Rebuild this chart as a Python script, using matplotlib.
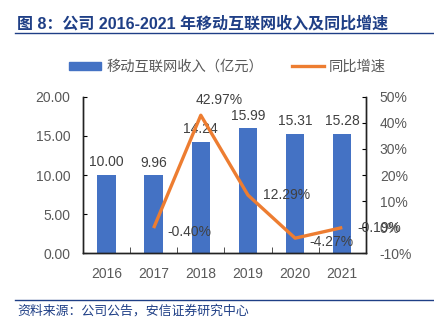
import numpy as np
import matplotlib
matplotlib.use('Agg')
import matplotlib.pyplot as plt
from matplotlib.lines import Line2D
from matplotlib.patches import Patch

plt.rcParams['font.family'] = ['Liberation Sans', 'Noto Sans CJK SC', 'DejaVu Sans']

years = ['2016', '2017', '2018', '2019', '2020', '2021']
revenue = [10.00, 9.96, 14.24, 15.99, 15.31, 15.28]
growth_years = ['2017', '2018', '2019', '2020', '2021']
growth = [-0.40, 42.97, 12.29, -4.27, -0.19]

bar_color = '#4472C4'
line_color = '#ED7D31'
tick_color = '#595959'
label_color = '#404040'
title_color = '#1F3F86'

fig = plt.figure(figsize=(4.34, 3.22), dpi=100)
ax = fig.add_axes([0.191, 0.214, 0.652, 0.485])
ax2 = ax.twinx()

x = np.arange(len(years))
bars = ax.bar(x, revenue, width=0.39, color=bar_color, zorder=2)
for xi, v in zip(x, revenue):
    ax.annotate('%.2f' % v, (xi, v), xytext=(0, 4), textcoords='offset points',
                ha='center', va='bottom', fontsize=10, color=label_color)

ax.set_xlim(-0.5, len(years) - 0.5)
ax.set_ylim(0, 20)
ax.set_yticks(np.arange(0, 21, 5))
ax.set_yticklabels(['%.2f' % t for t in np.arange(0, 21, 5)])
ax.set_xticks(x)
ax.set_xticklabels(years)
ax.set_xticks(np.arange(0.5, len(years) - 1, 1), minor=True)
ax.tick_params(axis='x', which='major', length=0, pad=10, labelsize=10, labelcolor=tick_color)
ax.tick_params(axis='x', which='minor', direction='in', length=4, color='#333333')
ax.tick_params(axis='y', direction='in', length=3, pad=9, labelsize=10, labelcolor=tick_color)

gx = [years.index(y) for y in growth_years]
ax2.plot(gx, growth, color=line_color, linewidth=2.4, solid_capstyle='butt', zorder=3)
ax2.set_ylim(-10, 50)
ax2.set_yticks(np.arange(-10, 51, 10))
ax2.set_yticklabels(['%d%%' % t for t in np.arange(-10, 51, 10)])
ax2.tick_params(axis='y', direction='in', length=3, pad=10, labelsize=10, labelcolor=tick_color)

# growth labels sit to the right of the points (the 2021 one runs into the 0% tick, as in the source)
offsets = [(10, -3), (-4, 6), (11, 0), (10, -3), (11, 0)]
for xi, v, off in zip(gx, growth, offsets):
    va = 'bottom' if v > 40 else 'center'
    ax2.annotate('%.2f%%' % v, (xi, v), xytext=off, textcoords='offset points',
                 ha='left', va=va, fontsize=10, color=label_color)

for a in (ax, ax2):
    a.spines['top'].set_visible(False)
    for s in ('left', 'right', 'bottom'):
        a.spines[s].set_color('#222222')
        a.spines[s].set_linewidth(1.0)

handles = [Patch(color=bar_color), Line2D([0], [0], color=line_color, linewidth=2.4)]
fig.legend(handles, ['移动互联网收入（亿元）', '同比增速'], loc='center',
           bbox_to_anchor=(0.525, 0.792), ncol=2, frameon=False, fontsize=10.3,
           labelcolor=tick_color, handlelength=2.2, handleheight=0.5,
           columnspacing=2.0, handletextpad=0.4)

fig.text(0.039, 0.925, '图 8：公司 2016-2021 年移动互联网收入及同比增速', fontsize=11.5,
         fontweight='bold', color=title_color, va='center', ha='left')
fig.add_artist(Line2D([0.035, 1.0], [0.897, 0.897], color=title_color, linewidth=1.0))
fig.add_artist(Line2D([0.035, 1.0], [0.068, 0.068], color=title_color, linewidth=1.0))
fig.text(0.039, 0.034, '资料来源：公司公告，安信证券研究中心', fontsize=9.3, style='italic',
         color=title_color, va='center', ha='left')

fig.savefig('out.png', dpi=100)
